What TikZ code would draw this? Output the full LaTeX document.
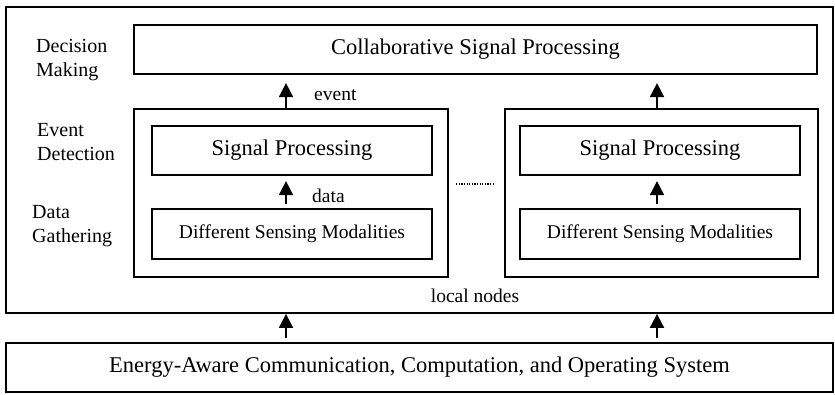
\documentclass[tikz,border=0pt]{standalone}
\usepackage{fontspec}
\setmainfont{Liberation Serif}
\usetikzlibrary{arrows.meta}

\tikzset{
	layerbox/.style={draw, line width=1.8pt, inner sep=0pt},
	procbox/.style={draw, line width=2.2pt, inner sep=0pt, minimum height=49pt},
	bigtext/.style={font=\fontsize{22.5}{26}\selectfont},
	smalltext/.style={font=\fontsize{19.5}{23}\selectfont},
	sidetext/.style={align=left, anchor=west, inner sep=0pt, font=\fontsize{20}{24}\selectfont},
	flowarrow/.style={-{Triangle[length=14pt,width=14pt]}, line width=1.8pt}
}

\begin{document}
\begin{tikzpicture}[x=1pt, y=-1pt]
	\useasboundingbox (0,0) rectangle (835,394);

	% frames
	\node[layerbox, minimum width=827pt, minimum height=306pt](outer) at (419.5,160) {};
	\node[layerbox, minimum width=827pt, minimum height=49pt, bigtext](os) at (419.5,367.5) {Energy-Aware Communication, Computation, and Operating System};
	\node[procbox, minimum width=683pt, bigtext](csp) at (475.5,49.5) {Collaborative Signal Processing};

	% left local node
	\node[procbox, minimum width=314pt, minimum height=168pt](lloc) at (291,193) {};
	\node[procbox, minimum width=280pt, bigtext](lsp) at (292,150.5) {Signal Processing};
	\node[procbox, minimum width=280pt, minimum height=50pt, smalltext](ldsm) at (292,234) {Different Sensing Modalities};

	% right local node
	\node[procbox, minimum width=313pt, minimum height=168pt](rloc) at (661.5,193) {};
	\node[procbox, minimum width=280pt, bigtext](rsp) at (660,150.5) {Signal Processing};
	\node[procbox, minimum width=280pt, minimum height=50pt, smalltext](rdsm) at (660,234) {Different Sensing Modalities};

	% side labels
	\node[sidetext](dm) at (36,60) {Decision\\Making};
	\node[sidetext](ed) at (37,142) {Event\\Detection};
	\node[sidetext](dg) at (32,226) {Data\\Gathering};

	% arrows
	\draw[flowarrow, shorten >=8pt]([xshift=-5pt]lloc.north) -- ([xshift=-5pt]lloc.north |- csp.south) node[midway, right=24pt, yshift=-4pt, smalltext](ev){event};
	\draw[flowarrow, shorten >=8pt](rloc.north -| 657,0) -- (csp.south -| 657,0);
	\draw[flowarrow, shorten <=4pt, shorten >=5pt]([xshift=-6pt]ldsm.north) -- ([xshift=-6pt]lsp.south) node[midway, right=22pt, yshift=-4pt, smalltext](da){data};
	\draw[flowarrow, shorten <=4pt, shorten >=5pt](rdsm.north -| 657,0) -- (rsp.south -| 657,0);
	\draw[flowarrow, shorten <=4pt](os.north -| 286,0) -- (outer.south -| 286,0);
	\draw[flowarrow, shorten <=4pt](os.north -| 657,0) -- (outer.south -| 657,0);

	% between local nodes
	\draw[line width=1.4pt, dash pattern=on 1.3pt off 1.3pt](lloc.east |- 0,184) ++(7,0) -- ([xshift=-11pt]rloc.west |- 0,184);
	\node[smalltext](ln) at (475,296) {local nodes};
\end{tikzpicture}
\end{document}
